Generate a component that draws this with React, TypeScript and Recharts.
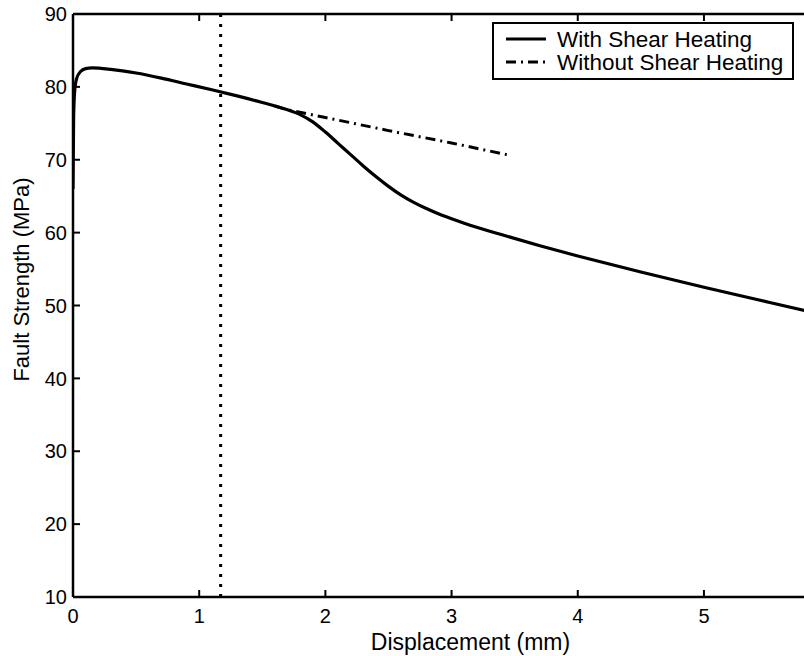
import React from 'react';
import { LineChart, Line, XAxis, YAxis, ReferenceLine, Legend, Label } from 'recharts';

const FONT = '"Liberation Sans", Arial, Helvetica, sans-serif';

const seriesNames = ['With Shear Heating', 'Without Shear Heating'];

const dispWith = [0, 0.005, 0.015, 0.03, 0.06, 0.1, 0.15, 0.3, 0.5, 0.7, 0.9, 1.1, 1.3, 1.5, 1.6, 1.7,
  1.8, 1.9, 2.0, 2.1, 2.2, 2.3, 2.4, 2.5, 2.6, 2.7, 2.8, 2.9, 3.0, 3.1, 3.4, 3.7, 4.0, 4.5, 5.0, 5.5, 5.9];
const strengthWith = [66, 76, 79.8, 81.2, 82.1, 82.5, 82.6, 82.4, 81.9, 81.2, 80.4, 79.6, 78.76, 77.86, 77.38, 76.86,
  76.2, 75.2, 73.8, 72.25, 70.7, 69.15, 67.7, 66.35, 65.15, 64.15, 63.3, 62.55, 61.9, 61.3, 59.7, 58.2, 56.8, 54.6, 52.5, 50.5, 48.9];

const dispWithout = [1.6, 1.7, 2.0, 2.5, 3.0, 3.465];
const strengthWithout = [77.38, 76.86, 75.8, 74.0, 72.3, 70.6];

const markerDisplacement = 1.17;

const xTicks = [0, 1, 2, 3, 4, 5];
const yTicks = [10, 20, 30, 40, 50, 60, 70, 80, 90];
const xDomain = [0, 6.3];
const yDomain = [10, 90];

const withData = dispWith.map((x, i) => ({ x, y: strengthWith[i] }));
const withoutData = dispWithout.map((x, i) => ({ x, y: strengthWithout[i] }));

const DASHDOT = '10 5 2 5';
const TICK_LEN = 7;

const BottomTick = (props: any) => {
  const { x, y, payload } = props;
  return (
    <text x={x} y={y + TICK_LEN + 26} textAnchor="middle" fontFamily={FONT} fontSize={20} fill="#000">
      {payload.value}
    </text>
  );
};

const LeftTick = (props: any) => {
  const { x, y, payload } = props;
  return (
    <text x={x - TICK_LEN - 6} y={y} dy="0.36em" textAnchor="end" fontFamily={FONT} fontSize={20} fill="#000">
      {payload.value}
    </text>
  );
};

const TopTickShape = (props: any) => {
  const { x1, y1, y2 } = props;
  const top = Math.min(y1, y2);
  return <line x1={x1} x2={x1} y1={top} y2={top + TICK_LEN} stroke="#000" strokeWidth={2} />;
};

const XLabel = (props: any) => {
  const { viewBox } = props;
  const cx = viewBox.x + viewBox.width / 2;
  return (
    <text x={cx} y={viewBox.y + 53} textAnchor="middle" fontFamily={FONT} fontSize={23} fill="#000">
      Displacement (mm)
    </text>
  );
};

const YLabel = (props: any) => {
  const { viewBox } = props;
  const cx = viewBox.x + 16;
  const cy = viewBox.y + viewBox.height / 2 - 26;
  return (
    <text x={cx} y={cy} textAnchor="middle" fontFamily={FONT} fontSize={22} fill="#000"
      transform={`rotate(-90, ${cx}, ${cy})`}>
      Fault Strength (MPa)
    </text>
  );
};

const LegendBox = () => (
  <svg width={302} height={58} style={{ display: 'block' }}>
    <rect x={1} y={1} width={300} height={56} fill="#fff" stroke="#000" strokeWidth={2} />
    <line x1={14} x2={54} y1={17} y2={17} stroke="#000" strokeWidth={3} />
    <text x={65} y={25} fontFamily={FONT} fontSize={22.5} fill="#000">{seriesNames[0]}</text>
    <line x1={14} x2={54} y1={40} y2={40} stroke="#000" strokeWidth={3} strokeDasharray={DASHDOT} />
    <text x={65} y={48} fontFamily={FONT} fontSize={22.5} fill="#000">{seriesNames[1]}</text>
  </svg>
);

const tickLineStyle = { stroke: '#000', strokeWidth: 2 };
const axisLineStyle = { stroke: '#000', strokeWidth: 2.5 };

export default function App() {
  return (
    <div style={{ position: 'absolute', left: 0, top: 0, width: 804, height: 656, overflow: 'hidden', background: '#fff' }}>
      <LineChart width={872} height={656} margin={{ top: 14, right: 4, bottom: 19, left: 13 }}>
        <XAxis
          dataKey="x"
          type="number"
          domain={xDomain}
          ticks={xTicks}
          interval={0}
          allowDataOverflow
          height={40}
          tickSize={-TICK_LEN}
          tickMargin={0}
          tickLine={tickLineStyle}
          axisLine={axisLineStyle}
          tick={<BottomTick />}
        >
          <Label content={<XLabel />} />
        </XAxis>
        <YAxis
          type="number"
          domain={yDomain}
          ticks={yTicks}
          interval={0}
          allowDataOverflow
          width={60}
          tickSize={-TICK_LEN}
          tickMargin={0}
          tickLine={tickLineStyle}
          axisLine={axisLineStyle}
          tick={<LeftTick />}
        >
          <Label content={<YLabel />} />
        </YAxis>
        <ReferenceLine y={yDomain[1]} stroke="#000" strokeWidth={2.5} ifOverflow="visible" />
        {xTicks.map((t) => (
          <ReferenceLine key={`tt${t}`} x={t} stroke="#000" ifOverflow="visible" shape={<TopTickShape />} />
        ))}
        <ReferenceLine
          x={markerDisplacement}
          stroke="#000"
          strokeWidth={3}
          strokeDasharray="3 7"
        />
        <Line
          data={withoutData}
          dataKey="y"
          name={seriesNames[1]}
          type="linear"
          stroke="#000"
          strokeWidth={3}
          strokeDasharray={DASHDOT}
          dot={false}
          activeDot={false}
          isAnimationActive={false}
        />
        <Line
          data={withData}
          dataKey="y"
          name={seriesNames[0]}
          type="monotone"
          stroke="#000"
          strokeWidth={3.2}
          dot={false}
          activeDot={false}
          isAnimationActive={false}
        />
        <Legend
          layout="horizontal"
          verticalAlign="middle"
          align="center"
          content={<LegendBox />}
          wrapperStyle={{ position: 'absolute', left: 492, top: 22, width: 302, height: 58 }}
        />
      </LineChart>
    </div>
  );
}
